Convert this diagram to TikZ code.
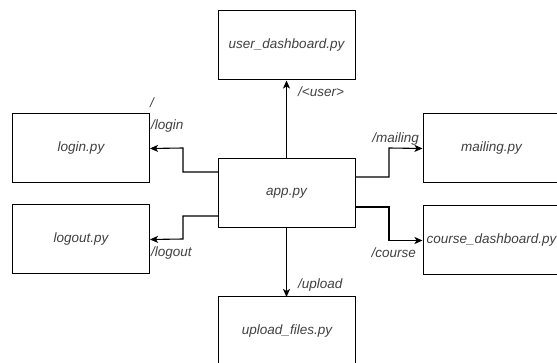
\documentclass[tikz,border=0pt]{standalone}
\usepackage{fontspec}
\setmainfont{Liberation Sans}
\usetikzlibrary{arrows.meta}
\definecolor{txt}{HTML}{404040}
\tikzset{
  module/.style={draw=black, line width=1pt, minimum width=137pt, minimum height=69pt,
    inner sep=0pt, font=\fontsize{13.5}{15}\selectfont\itshape, text=txt},
  route/.style={draw=black, line width=1.1pt, -{Stealth[length=8pt,width=7pt,inset=2pt]}},
  lbl/.style={font=\fontsize{13.5}{15}\selectfont\itshape, text=txt, inner sep=0pt}
}
\begin{document}
\begin{tikzpicture}[x=1pt,y=-1pt]
\useasboundingbox (0,0) rectangle (557,363);
% modules
\node[module] (user) at (286.5,45.5) {user\_dashboard.py};
\node[module] (login) at (81,148.5) {login.py};
\node[module] (logout) at (81,239.5) {logout.py};
\node[module] (app) at (286.5,193.5) {app.py};
\node[module] (mail) at (491.5,148.5) {mailing.py};
\node[module] (course) at (491.5,240.5) {course\_dashboard.py};
\node[module] (upload) at (287,331.5) {upload\_files.py};
% routes
\coordinate (lA) at (218,172);
\coordinate (loA) at (218,216);
\coordinate (mA) at (355,177);
\coordinate (cA) at (355,207);
\draw[route] (app.north) -- (user.south);
\draw[route] (lA) -- (183,172) -- (183,148) -- (login.east);
\draw[route] (loA) -- (183,216) -- (183,239) -- (logout.east);
\draw[route] (mA) -- (389,177) -- (389,148) -- (mail.west);
\draw[route] (cA) -- (389,207) -- (389,240.5) -- (course.west);
\draw[route] (app.south) -- (286.5,297);
% route labels
\node[lbl, anchor=west] (tuser) at (298,92) {/<user>};
\node[lbl, anchor=west] (tslash) at (150,103) {/};
\node[lbl, anchor=west] (tlogin) at (151,126) {/login};
\node[lbl, anchor=west] (tlogout) at (151,253) {/logout};
\node[lbl, anchor=east] (tmail) at (419,139) {/mailing};
\node[lbl, anchor=east] (tcourse) at (416,253) {/course};
\node[lbl, anchor=west] (tupload) at (298,285) {/upload};
\end{tikzpicture}
\end{document}
